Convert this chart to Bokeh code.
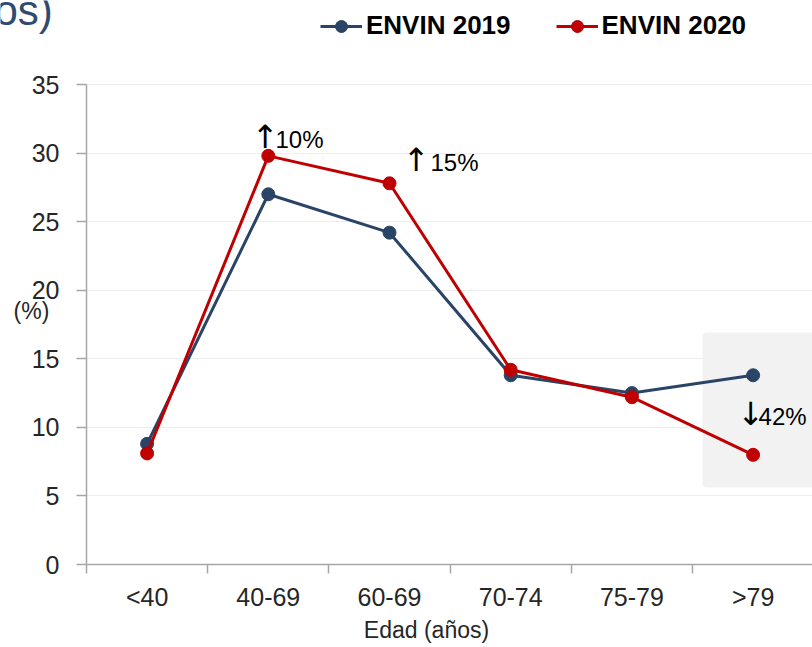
from bokeh.plotting import figure
from bokeh.models import FixedTicker, Label, BoxAnnotation, Legend, LegendItem, ColumnDataSource
from bokeh.embed import file_html
from bokeh.resources import INLINE

# ---- data ----
categories = ["<40", "40-69", "60-69", "70-74", "75-79", ">79"]
envin_2019 = [8.8, 27.0, 24.2, 13.8, 12.5, 13.8]
envin_2020 = [8.1, 29.8, 27.8, 14.2, 12.2, 8.0]
y_ticks = [0, 5, 10, 15, 20, 25, 30, 35]
change_arrows = ["\u2191", "\u2191", "\u2193"]
change_values = ["10%", "15%", "42%"]

FONT = "Liberation Sans"
NAVY = "#2A4467"
RED = "#C00000"
AXIS = "#A6A6A6"
TXT = "#262626"

xs = [i + 0.5 for i in range(len(categories))]
src = ColumnDataSource(dict(x=xs, y19=envin_2019, y20=envin_2020))

# frame covers the whole canvas; axes are pinned at x=0 / y=0
p = figure(width=812, height=647, x_range=(-0.7096, 5.990), y_range=(-6.052, 41.13),
           output_backend="svg", toolbar_location=None,
           min_border_left=0, min_border_right=0, min_border_top=0, min_border_bottom=0)
p.outline_line_color = None
p.background_fill_color = "white"

# highlight box
p.add_layout(BoxAnnotation(left=5.083, right=6.2, bottom=5.61, top=16.92,
                           fill_color="#F2F2F2", fill_alpha=1.0, line_color=None,
                           border_radius=4, level="underlay"))

r19l = p.line("x", "y19", source=src, line_color=NAVY, line_width=3)
r19s = p.scatter("x", "y19", source=src, size=13, fill_color=NAVY, line_color=NAVY)
r20l = p.line("x", "y20", source=src, line_color=RED, line_width=3)
r20s = p.scatter("x", "y20", source=src, size=13, fill_color=RED, line_color=RED)

legend = Legend(items=[LegendItem(label="ENVIN 2019", renderers=[r19l, r19s]),
                       LegendItem(label="ENVIN 2020", renderers=[r20l, r20s])],
                orientation="horizontal", location=(320, 606),
                glyph_width=42, glyph_height=30, label_height=30,
                label_standoff=4, spacing=45, padding=0, margin=0,
                border_line_color=None, background_fill_alpha=0,
                label_text_font=FONT, label_text_font_size="26px",
                label_text_font_style="bold", label_text_color="black")
p.add_layout(legend, "center")

# axes
p.xaxis.fixed_location = 0
p.xaxis.bounds = (0, 6)
p.xaxis.ticker = FixedTicker(ticks=xs, minor_ticks=list(range(0, 7)))
p.xaxis.major_label_overrides = {x: c for x, c in zip(xs, categories)}
p.xaxis.major_tick_out = 0
p.xaxis.major_tick_in = 0
p.xaxis.minor_tick_out = 9
p.xaxis.minor_tick_in = 0
p.xaxis.minor_tick_line_color = AXIS
p.xaxis.minor_tick_line_width = 1.5
p.xaxis.axis_line_color = AXIS
p.xaxis.axis_line_width = 1.5
p.xaxis.major_label_standoff = 9
p.xaxis.major_label_text_font = FONT
p.xaxis.major_label_text_font_size = "25px"
p.xaxis.major_label_text_color = TXT

p.yaxis.fixed_location = 0
p.yaxis.bounds = (0, 35)
p.yaxis.ticker = FixedTicker(ticks=y_ticks)
p.yaxis.minor_tick_line_color = None
p.yaxis.major_tick_out = 10
p.yaxis.major_tick_in = 0
p.yaxis.major_tick_line_color = AXIS
p.yaxis.major_tick_line_width = 1.5
p.yaxis.axis_line_color = AXIS
p.yaxis.axis_line_width = 1.5
p.yaxis.major_label_standoff = 17
p.yaxis.major_label_text_font = FONT
p.yaxis.major_label_text_font_size = "25px"
p.yaxis.major_label_text_color = TXT

p.xgrid.grid_line_color = None
p.ygrid.ticker = FixedTicker(ticks=y_ticks)
p.ygrid.grid_line_color = "#EDEDED"
p.ygrid.grid_line_width = 1
try:
    p.ygrid.cross_bounds = (0, 6)
except Exception:
    pass

# texts
p.add_layout(Label(x=-0.759, y=40.4, text="os)", text_font=FONT,
                   text_font_size="42px", text_color="#2E4B72", text_baseline="alphabetic"))
p.add_layout(Label(x=-0.602, y=18.5, text="(%)", text_font=FONT, text_font_size="23px",
                   text_color=TXT, text_baseline="alphabetic"))
p.add_layout(Label(x=2.805, y=-4.81, text="Edad (años)", text_font=FONT, text_font_size="23px",
                   text_color=TXT, text_align="center", text_baseline="alphabetic"))

arrow_x = [1.473, 2.719, 5.479]
value_x = [1.559, 2.838, 5.545]
base_y = [30.26, 28.58, 10.06]
for arr, val, ax, vx, by in zip(change_arrows, change_values, arrow_x, value_x, base_y):
    p.add_layout(Label(x=ax, y=by + 0.95, text=arr, text_font="DejaVu Sans", text_font_size="32px",
                       text_color="black", text_align="center", text_baseline="alphabetic"))
    p.add_layout(Label(x=vx, y=by + 0.73, text=val, text_font=FONT, text_font_size="24px",
                       text_color="black", text_baseline="alphabetic"))

open("out.html", "w").write(file_html(p, INLINE))
